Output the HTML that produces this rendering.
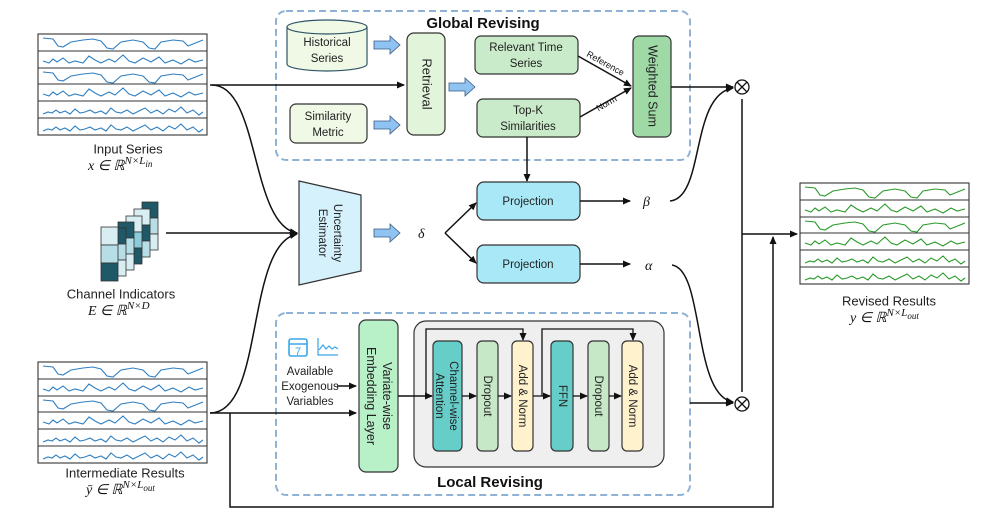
<!DOCTYPE html>
<html><head><meta charset="utf-8"><style>
body{margin:0;background:#fff}
svg{display:block;font-family:"Liberation Sans",sans-serif}
.t{font-size:11.5px;fill:#222;text-anchor:middle;dominant-baseline:middle}
.m{font-family:"Liberation Serif",serif;font-style:italic;font-size:14px;fill:#111}
.ln{stroke:#111;stroke-width:1.5;fill:none}
.bx{stroke:#333;stroke-width:1.2}
</style></head><body>
<svg width="997" height="518" viewBox="0 0 997 518">
<defs>
<marker id="a" markerWidth="8" markerHeight="8" refX="7" refY="4" orient="auto" markerUnits="userSpaceOnUse"><path d="M0,0.5 L8,4 L0,7.5 z" fill="#111"/></marker>
<path id="p1" d="M0,4 L10,5 15,12 20,13 28,8 40,6 50,5 58,7 64,14 70,15 78,8 90,6 100,8 106,14 112,15 118,8 130,6 140,7 145,12 150,10 160,6" fill="none"/>
<path id="p2" d="M0,10 L6,12 10,8 14,11 20,7 26,12 32,10 40,12 46,5 52,9 58,12 66,8 72,11 80,4 86,10 92,12 100,7 108,11 116,6 122,12 130,9 138,13 146,8 152,11 160,9" fill="none"/>
<path id="p3" d="M0,13 L5,11 9,12 13,9 17,12 22,10 27,13 32,8 37,12 42,11 47,9 52,12 58,10 63,13 68,7 73,11 78,12 84,9 90,13 96,10 102,7 108,12 114,9 120,13 126,8 132,11 138,6 144,12 150,9 156,14 160,11" fill="none"/>
<g id="chart">
<rect x="0" y="0" width="169" height="101" fill="#fff" stroke="#333"/>
<g stroke="#333"><line x1="0" y1="17" x2="169" y2="17"/><line x1="0" y1="34" x2="169" y2="34"/><line x1="0" y1="50" x2="169" y2="50"/><line x1="0" y1="67" x2="169" y2="67"/><line x1="0" y1="84" x2="169" y2="84"/></g>
<use href="#p1" x="5" y="0"/><use href="#p2" x="5" y="17"/><use href="#p1" x="5" y="34"/><use href="#p2" x="5" y="50"/><use href="#p3" x="5" y="67"/><use href="#p3" x="5" y="84"/>
</g>
</defs>

<!-- charts -->
<use href="#chart" x="38" y="34" stroke="#2f7fc1" stroke-width="1.1"/>
<use href="#chart" x="38" y="362" stroke="#2f7fc1" stroke-width="1.1"/>
<use href="#chart" x="800" y="183" stroke="#2a9a2a" stroke-width="1.1"/>
<text class="t" x="128" y="150" style="font-size:13px">Input Series</text>
<text class="m" x="88" y="170">x ∈ ℝ<tspan dy="-6" font-size="11">N×L</tspan><tspan dy="3" font-size="9">in</tspan></text>
<text class="t" x="121" y="295" style="font-size:13px">Channel Indicators</text>
<text class="m" x="88" y="315">E ∈ ℝ<tspan dy="-6" font-size="11">N×D</tspan></text>
<text class="t" x="125" y="474" style="font-size:13px">Intermediate Results</text>
<text class="m" x="86" y="494">ȳ ∈ ℝ<tspan dy="-6" font-size="11">N×L</tspan><tspan dy="3" font-size="9">out</tspan></text>
<text class="t" x="889" y="302" style="font-size:13px">Revised Results</text>
<text class="m" x="850" y="322">y ∈ ℝ<tspan dy="-6" font-size="11">N×L</tspan><tspan dy="3" font-size="9">out</tspan></text>

<!-- channel indicators -->
<g stroke="#333" stroke-width="0.8">
<rect x="142" y="202" width="16" height="16" fill="#1f5866"/><rect x="142" y="218" width="16" height="16" fill="#b7dde6"/><rect x="142" y="234" width="16" height="16" fill="#d8eef3"/>
<rect x="134" y="209" width="16" height="16" fill="#d8eef3"/><rect x="134" y="225" width="16" height="16" fill="#1f5866"/><rect x="134" y="241" width="16" height="16" fill="#b7dde6"/>
<rect x="126" y="216" width="16" height="16" fill="#d8eef3"/><rect x="126" y="232" width="16" height="16" fill="#8ccbda"/><rect x="126" y="248" width="16" height="16" fill="#1f5866"/>
<rect x="118" y="222" width="16" height="16" fill="#1f5866"/><rect x="118" y="238" width="16" height="16" fill="#b7dde6"/><rect x="118" y="254" width="16" height="16" fill="#d8eef3"/>
<rect x="110" y="228" width="16" height="16" fill="#1f5866"/><rect x="110" y="244" width="16" height="16" fill="#b7dde6"/><rect x="110" y="260" width="16" height="16" fill="#d8eef3"/>
<rect x="101" y="227" width="17" height="18" fill="#d8eef3"/><rect x="101" y="245" width="17" height="18" fill="#b7dde6"/><rect x="101" y="263" width="17" height="18" fill="#1f5866"/>
</g>

<!-- dashed boxes -->
<rect x="276" y="11" width="414" height="149" rx="10" fill="none" stroke="#8fb2d4" stroke-width="2" stroke-dasharray="7,4"/>
<rect x="276" y="313" width="414" height="182" rx="10" fill="none" stroke="#8fb2d4" stroke-width="2" stroke-dasharray="7,4"/>
<text x="483" y="28" text-anchor="middle" font-weight="bold" font-size="15" fill="#111">Global Revising</text>
<text x="490" y="487" text-anchor="middle" font-weight="bold" font-size="15" fill="#111">Local Revising</text>

<!-- global -->
<path d="M287,27 L287,64 A40,7 0 0 0 367,64 L367,27" fill="#f0f8e6" stroke="#2e5566" stroke-width="1.2"/>
<ellipse cx="327" cy="27" rx="40" ry="7" fill="#f0f8e6" stroke="#2e5566" stroke-width="1.2"/>
<text class="t" x="327" y="43">Historical</text><text class="t" x="327" y="59">Series</text>
<rect class="bx" x="290" y="104" width="77" height="39" rx="6" fill="#f0f8e6"/>
<text class="t" x="328" y="117">Similarity</text><text class="t" x="328" y="133">Metric</text>
<g fill="#8fc3f2" stroke="#3a5a80" stroke-width="0.8">
<path d="M374,41 h16 v-5 l10,9 l-10,9 v-5 h-16z"/>
<path d="M374,121 h16 v-5 l10,9 l-10,9 v-5 h-16z"/>
<path d="M449,83 h16 v-5 l10,9 l-10,9 v-5 h-16z"/>
<path d="M374,229 h16 v-5 l10,9 l-10,9 v-5 h-16z"/>
</g>
<rect class="bx" x="407" y="33" width="38" height="102" rx="7" fill="#e2f5da"/>
<text class="t" transform="translate(426,84) rotate(90)" style="font-size:13px">Retrieval</text>
<rect class="bx" x="475" y="36" width="103" height="38" rx="6" fill="#c9ebc9"/>
<text class="t" x="526" y="48">Relevant Time</text><text class="t" x="526" y="64">Series</text>
<rect class="bx" x="477" y="99" width="103" height="38" rx="6" fill="#c9ebc9"/>
<text class="t" x="528" y="111">Top-K</text><text class="t" x="528" y="127">Similarities</text>
<rect class="bx" x="633" y="36" width="38" height="101" rx="6" fill="#9fd9a6"/>
<text class="t" transform="translate(652,86) rotate(90)" style="font-size:12.5px">Weighted Sum</text>
<path class="ln" d="M578,56 L631,86" marker-end="url(#a)"/>
<path class="ln" d="M580,117 L631,88" marker-end="url(#a)"/>
<text transform="translate(604,66) rotate(29)" text-anchor="middle" font-size="9" fill="#111">Reference</text>
<text transform="translate(608,106) rotate(-30)" text-anchor="middle" font-size="9" fill="#111">Norm</text>

<!-- input flows -->
<path class="ln" d="M210,85 L404,85" marker-end="url(#a)"/>
<path class="ln" d="M212,85 C260,85 250,225 297,233" marker-end="url(#a)"/>
<path class="ln" d="M210,413 C265,413 245,245 297,234" marker-end="url(#a)"/>
<path class="ln" d="M166,233 L297,233" marker-end="url(#a)"/>
<path class="ln" d="M210,413 L356,413" marker-end="url(#a)"/>
<path class="ln" d="M230,413 L230,507 L773,507 L773,237" marker-end="url(#a)"/>

<!-- estimator -->
<path d="M299,181 L361,195 L361,271 L299,285 Z" fill="#d5f1fb" stroke="#333" stroke-width="1.2"/>
<text class="t" transform="translate(330,233) rotate(90)"><tspan x="0" dy="-7">Uncertainty</tspan><tspan x="0" dy="15">Estimator</tspan></text>
<text class="m" x="418" y="238">δ</text>
<path class="ln" d="M445,233 L476,203" marker-end="url(#a)"/>
<path class="ln" d="M445,233 L476,263" marker-end="url(#a)"/>
<path class="ln" d="M527,137 L527,181" marker-end="url(#a)"/>
<rect class="bx" x="477" y="182" width="103" height="38" rx="7" fill="#a9e9f7"/>
<text class="t" x="528" y="202">Projection</text>
<rect class="bx" x="477" y="245" width="103" height="38" rx="7" fill="#a9e9f7"/>
<text class="t" x="528" y="265">Projection</text>
<path class="ln" d="M580,201 L630,201" marker-end="url(#a)"/>
<path class="ln" d="M580,264 L630,264" marker-end="url(#a)"/>
<text class="m" x="643" y="206">β</text>
<text class="m" x="645" y="270">α</text>

<!-- right side -->
<path class="ln" d="M671,87 L733,87" marker-end="url(#a)"/>
<path class="ln" d="M670,201 C705,198 690,95 733,88" marker-end="url(#a)"/>
<path class="ln" d="M690,403 L733,403" marker-end="url(#a)"/>
<path class="ln" d="M672,265 C705,270 692,395 733,402" marker-end="url(#a)"/>
<g stroke="#111" stroke-width="1.3" fill="#fff">
<circle cx="742" cy="87" r="7"/><path d="M737,82 L747,92 M747,82 L737,92"/>
<circle cx="742" cy="404" r="7"/><path d="M737,399 L747,409 M747,399 L737,409"/>
</g>
<path class="ln" d="M742,99 L742,392"/>
<path class="ln" d="M742,234 L797,234" marker-end="url(#a)"/>

<!-- local -->
<g transform="translate(288,336)">
<rect x="1" y="3" width="18" height="17" rx="2" fill="none" stroke="#3aa7e8" stroke-width="1.6"/>
<line x1="1" y1="8" x2="19" y2="8" stroke="#3aa7e8" stroke-width="1.6"/>
<text x="10" y="19" font-size="11" text-anchor="middle" fill="#3aa7e8">7</text>
<path d="M30,2 L30,19 L50,19 M31,14 L35,9 L38,13 L41,10 L44,13 L47,11 L50,13" fill="none" stroke="#3aa7e8" stroke-width="1.2"/>
</g>
<text class="t" x="310" y="372">Available</text>
<text class="t" x="310" y="387">Exogenous</text>
<text class="t" x="310" y="402">Variables</text>
<path class="ln" d="M337,386 L356,386" marker-end="url(#a)"/>
<rect class="bx" x="359" y="320" width="39" height="152" rx="7" fill="#b8f0c8"/>
<text class="t" transform="translate(378,396) rotate(90)" style="font-size:12.5px"><tspan x="0" dy="-8">Variate-wise</tspan><tspan x="0" dy="16">Embedding Layer</tspan></text>
<rect x="414" y="321" width="250" height="146" rx="12" fill="#efefef" stroke="#333" stroke-width="1.2"/>
<path class="ln" d="M398,396 L432,396" marker-end="url(#a)"/>
<rect class="bx" x="433" y="341" width="29" height="110" rx="5" fill="#66cdc9"/>
<text class="t" transform="translate(447,396) rotate(90)"><tspan x="0" dy="-6">Channel-wise</tspan><tspan x="0" dy="14">Attention</tspan></text>
<rect class="bx" x="477" y="341" width="21" height="110" rx="5" fill="#c7e8c7"/>
<text class="t" transform="translate(487,396) rotate(90)">Dropout</text>
<rect class="bx" x="512" y="341" width="21" height="110" rx="5" fill="#fff2cc"/>
<text class="t" transform="translate(522,396) rotate(90)">Add &amp; Norm</text>
<rect class="bx" x="551" y="341" width="22" height="110" rx="5" fill="#66cdc9"/>
<text class="t" transform="translate(562,396) rotate(90)">FFN</text>
<rect class="bx" x="588" y="341" width="21" height="110" rx="5" fill="#c7e8c7"/>
<text class="t" transform="translate(598,396) rotate(90)">Dropout</text>
<rect class="bx" x="622" y="341" width="21" height="110" rx="5" fill="#fff2cc"/>
<text class="t" transform="translate(632,396) rotate(90)">Add &amp; Norm</text>
<g class="ln" style="stroke-width:1.3">
<path d="M462,396 L476,396" marker-end="url(#a)"/>
<path d="M498,396 L511,396" marker-end="url(#a)"/>
<path d="M533,396 L550,396" marker-end="url(#a)"/>
<path d="M573,396 L587,396" marker-end="url(#a)"/>
<path d="M609,396 L621,396" marker-end="url(#a)"/>
<path d="M426,396 L426,329 L523,329 L523,340" marker-end="url(#a)"/>
<path d="M542,396 L542,329 L633,329 L633,340" marker-end="url(#a)"/>
</g>
</svg>
</body></html>
